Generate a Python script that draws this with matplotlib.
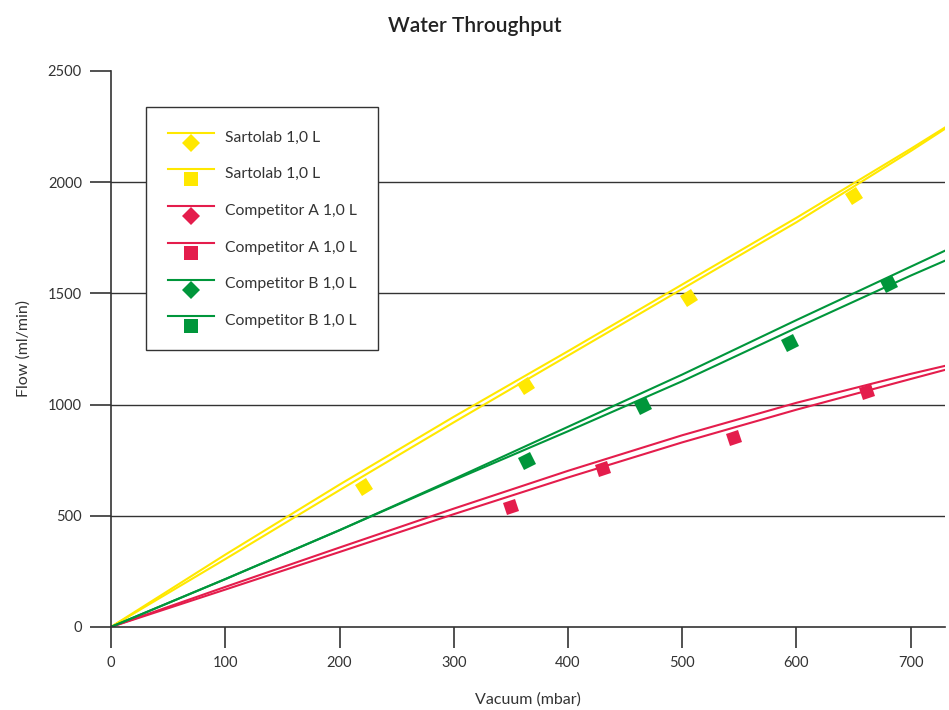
import numpy as np
import matplotlib
matplotlib.use("Agg")
import matplotlib.pyplot as plt
from matplotlib.lines import Line2D
from matplotlib.markers import MarkerStyle
from matplotlib.transforms import Affine2D
from matplotlib.legend_handler import HandlerBase

plt.rcParams['font.family'] = ['Lato', 'DejaVu Sans']

# fitted curves
fit_x = [0, 100, 200, 300, 400, 500, 600, 700, 730]
sarto_d_fit = [0, 325, 640, 945, 1240, 1540, 1840, 2150, 2246]
sarto_s_fit = [0, 305, 615, 920, 1220, 1520, 1820, 2140, 2240]
compA_d_fit = [0, 180, 357, 532, 702, 862, 1008, 1138, 1174]
compA_s_fit = [0, 168, 337, 507, 672, 830, 977, 1115, 1156]
compB_d_fit = [0, 215, 435, 665, 900, 1135, 1380, 1620, 1692]
compB_s_fit = [0, 215, 435, 660, 880, 1105, 1345, 1580, 1647]

# measured points
sarto_x = [221, 363, 506, 650]
sarto_y = [629, 1083, 1479, 1938]
compA_x = [350, 431, 545, 662]
compA_y = [541, 709, 848, 1057]
compB_x = [364, 466, 594, 681]
compB_y = [744, 994, 1277, 1544]

labels = ["Sartolab 1,0 L", "Sartolab 1,0 L",
          "Competitor A 1,0 L", "Competitor A 1,0 L",
          "Competitor B 1,0 L", "Competitor B 1,0 L"]

yellow = "#FFE800"
red = "#E41D4C"
green = "#00963B"
dark = "#333333"

fig = plt.figure(figsize=(9.49, 7.10), dpi=100)
ax = fig.add_axes([0.117, 0.117, 0.8788, 0.783])
ax.set_xlim(0, 730)
ax.set_ylim(0, 2500)

lw = 1.5
ax.plot(fit_x, sarto_d_fit, color=yellow, lw=lw)
ax.plot(fit_x, sarto_s_fit, color=yellow, lw=lw)
ax.plot(fit_x, compA_d_fit, color=red, lw=lw)
ax.plot(fit_x, compA_s_fit, color=red, lw=lw)
ax.plot(fit_x, compB_d_fit, color=green, lw=lw)
ax.plot(fit_x, compB_s_fit, color=green, lw=lw)

# markers are squares turned along the line
def tilt(fit):
    p0 = ax.transData.transform((fit_x[0], fit[0]))
    p1 = ax.transData.transform((fit_x[-1], fit[-1]))
    return np.degrees(np.arctan2(p1[1] - p0[1], p1[0] - p0[0]))

for xs, ys, fit, c in [(sarto_x, sarto_y, sarto_s_fit, yellow),
                       (compA_x, compA_y, compA_s_fit, red),
                       (compB_x, compB_y, compB_s_fit, green)]:
    m = MarkerStyle('s', transform=Affine2D().rotate_deg(tilt(fit)))
    ax.plot(xs, ys, ls='none', marker=m, markersize=9.5, color=c,
            markeredgewidth=0, zorder=4)

# grid lines only between 0 and the top
for yv in [500, 1000, 1500, 2000]:
    ax.axhline(yv, color=dark, lw=1, zorder=1)

for s in ['top', 'right']:
    ax.spines[s].set_visible(False)
for s in ['left', 'bottom']:
    ax.spines[s].set_color(dark)
    ax.spines[s].set_linewidth(1.2)

ax.set_xticks(range(0, 701, 100))
ax.set_yticks(range(0, 2501, 500))
ax.tick_params(length=15, width=1.2, color=dark, labelcolor=dark,
               labelsize=10.5, pad=6)
ax.set_xlabel("Vacuum (mbar)", fontsize=11.5, color=dark, labelpad=16)
ax.set_ylabel("Flow (ml/min)", fontsize=11.5, color=dark, labelpad=12)
fig.suptitle("Water Throughput", fontsize=15, fontweight='semibold',
             color="#222222", y=0.978)


class LineOverMarker(HandlerBase):
    def create_artists(self, legend, orig, xdescent, ydescent, width,
                       height, fontsize, trans):
        yl = height * 0.75 - ydescent
        line = Line2D([-xdescent, -xdescent + width], [yl, yl],
                      color=orig.get_color(), lw=lw)
        mk = Line2D([-xdescent + width / 2], [yl - 0.72 * height],
                    marker=orig.get_marker(), markersize=9.5,
                    color=orig.get_color(), markeredgewidth=0, ls='none')
        line.set_transform(trans)
        mk.set_transform(trans)
        return [line, mk]


handles = [Line2D([], [], color=c, marker=mk)
           for c, mk in [(yellow, 'D'), (yellow, 's'), (red, 'D'),
                         (red, 's'), (green, 'D'), (green, 's')]]
leg = ax.legend(handles, labels, loc='upper left',
                bbox_to_anchor=(0.042, 0.935), fontsize=11.3,
                handler_map={Line2D: LineOverMarker()},
                handlelength=2.9, handleheight=1.0, handletextpad=0.7,
                labelspacing=1.36, borderpad=1.4, fancybox=False,
                framealpha=1, edgecolor=dark, borderaxespad=0)
leg.get_frame().set_linewidth(1.0)
for t in leg.get_texts():
    t.set_color(dark)

fig.savefig("out.png", dpi=100)
